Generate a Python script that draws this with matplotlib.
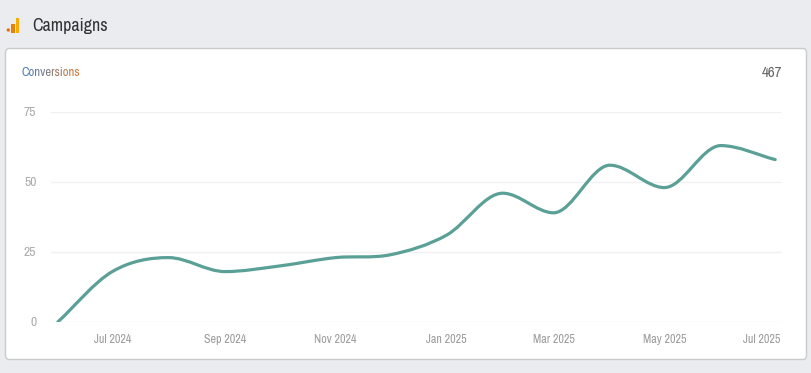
import numpy as np
import matplotlib
matplotlib.use('Agg')
import matplotlib.pyplot as plt
import matplotlib.dates as mdates
from matplotlib.colors import to_rgb
from matplotlib.patches import FancyBboxPatch, Rectangle, Circle, PathPatch
from matplotlib.path import Path
from matplotlib.transforms import ScaledTranslation
from datetime import date

months = ['2024-06', '2024-07', '2024-08', '2024-09', '2024-10', '2024-11', '2024-12',
          '2025-01', '2025-02', '2025-03', '2025-04', '2025-05', '2025-06', '2025-07']
conversions = [0, 18, 23, 18, 20, 23, 24, 31, 46, 39, 56, 48, 63, 58]
y_ticks = [0, 25, 50, 75]
x_tick_months = ['2024-07', '2024-09', '2024-11', '2025-01', '2025-03', '2025-05', '2025-07']
x_tick_labels = ['Jul 2024', 'Sep 2024', 'Nov 2024', 'Jan 2025', 'Mar 2025', 'May 2025', 'Jul 2025']

W, H = 812, 373
plt.rcParams['font.family'] = ['Liberation Sans Narrow', 'Archivo Narrow', 'Roboto Condensed',
                               'Liberation Sans', 'DejaVu Sans']
fig = plt.figure(figsize=(W / 100, H / 100), dpi=100, facecolor='#ebecf0')


def to_date(s):
    return mdates.date2num(date(int(s[:4]), int(s[5:]), 1))


def gradient_text(img, dpi):
    # blue on the left of the word, orange on the right
    a, b = np.array(to_rgb('#3f80c4')), np.array(to_rgb('#d87a30'))
    t = np.linspace(0, 1, img.shape[1])[None, :, None]
    out = img.copy()
    out[..., :3] = a * (1 - t) + b * t
    return out, 0, 0


# everything outside the plot is placed in pixels, y going down
bg = fig.add_axes([0, 0, 1, 1])
bg.set_xlim(0, W)
bg.set_ylim(H, 0)
bg.axis('off')
bg.add_patch(FancyBboxPatch((5.5, 48.5), 801, 311, boxstyle='round,pad=0,rounding_size=4',
                            fc='white', ec='#c9cacd', lw=1))
bg.add_patch(Circle((8.3, 30), 1.7, fc='#e8710a', ec='none'))
bg.add_patch(Rectangle((11.5, 23.5), 3.2, 9, fc='#e8810a', ec='none'))
bg.add_patch(Rectangle((16, 18), 3.4, 14.5, fc='#f9ab00', ec='none'))
bg.text(32.5, 25.5, 'Campaigns', fontsize=12.9, color='#333333', va='center', ha='left')
bg.text(782, 73, '467', fontsize=10.8, color='#666666', va='center', ha='right')
label = bg.text(22, 72.5, 'Conversions', fontsize=9.2, va='center', ha='left')
label.set_agg_filter(gradient_text)

ax = fig.add_axes([51 / W, 1 - 322 / H, (782 - 51) / W, (322 - 112) / H])
ax.patch.set_alpha(0)
x = np.array([to_date(s) for s in months])
y = np.array(conversions, dtype=float)

# smooth curve through the monthly values, flat at the peaks and dips
h = np.diff(x)
s = np.diff(y) / h
m = np.zeros(len(x))
m[0], m[-1] = s[0], s[-1]
for i in range(1, len(x) - 1):
    if s[i - 1] * s[i] > 0:
        m[i] = (y[i + 1] - y[i - 1]) / (x[i + 1] - x[i - 1])
verts = [(x[0], y[0])]
codes = [Path.MOVETO]
for i in range(len(x) - 1):
    verts += [(x[i] + h[i] / 3, y[i] + m[i] * h[i] / 3),
              (x[i + 1] - h[i] / 3, y[i + 1] - m[i + 1] * h[i] / 3),
              (x[i + 1], y[i + 1])]
    codes += [Path.CURVE4] * 3
ax.add_patch(PathPatch(Path(verts, codes), fc='none', ec='#5aa096', lw=2.3,
                       capstyle='round', joinstyle='round', zorder=3))

pad = 6.8 / 1.818
ax.set_xlim(x[0] - pad, x[-1] + pad)
ax.set_ylim(0, 75)
ax.set_yticks(y_ticks)
ax.grid(axis='y', color='#f1f1f3', lw=1)
ax.set_axisbelow(True)
for sp in ax.spines.values():
    sp.set_visible(False)
ax.tick_params(length=0)
ax.tick_params(axis='y', pad=10.5, labelsize=9.8, labelcolor='#ababab')
ax.set_xticks([to_date(s) for s in x_tick_months])
ax.set_xticklabels(x_tick_labels, fontsize=8.7, color='#9c9c9c')
ax.tick_params(axis='x', pad=8.5)
last = ax.get_xticklabels()[-1]
last.set_ha('right')
last.set_transform(last.get_transform() + ScaledTranslation(5 / 100, 0, fig.dpi_scale_trans))

fig.savefig('out.png', dpi=100, facecolor=fig.get_facecolor())
